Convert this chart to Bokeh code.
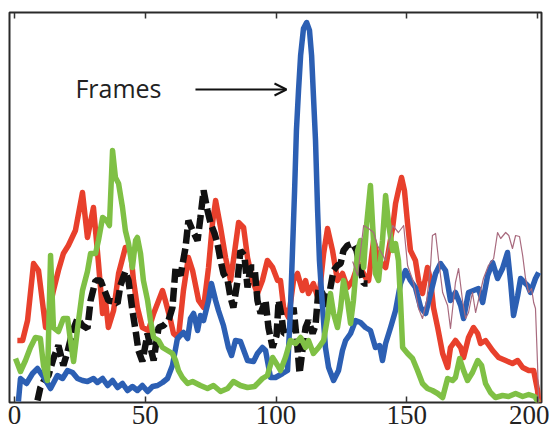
from bokeh.plotting import figure
from bokeh.models import Range1d, LinearAxis, FixedTicker, Label, Arrow, OpenHead
from bokeh.embed import file_html
from bokeh.resources import INLINE

# ---------------- data (frame index, response) ----------------
red_x = [1.1, 3.1, 5.0, 7.3, 9.2, 11.9, 14.9, 16.8, 18.7, 20.6, 23.3, 26.0, 27.9, 30.2, 32.1,
         33.7, 34.8, 35.9, 37.9, 39.8, 42.4, 44.4, 45.5, 47.0, 48.9, 51.2, 53.2, 56.6, 57.7,
         59.7, 60.8, 62.7, 64.6, 66.5, 68.1, 70.4, 72.3, 74.2, 75.7, 76.9, 78.8, 80.7, 82.6,
         83.7, 85.7, 87.6, 89.1, 91.0, 92.9, 94.8, 96.7, 98.7, 100.6, 101.7, 102.9, 104.8,
         106.7, 108.2, 110.1, 111.3, 112.4, 114.3, 116.3, 118.2, 119.7, 121.6, 123.5, 125.4,
         127.3, 129.3, 131.5, 134.2, 135.4, 137.3, 139.2, 141.9, 144.6, 145.7, 146.8, 148.0,
         149.1, 150.3, 151.4, 153.3, 154.5, 156.0, 157.9, 159.1, 160.2, 161.8, 163.7, 165.6,
         166.7, 168.6, 170.6, 171.7, 173.6, 175.5, 177.1, 178.2, 180.1, 182.8, 185.1, 187.8,
         190.4, 192.4, 194.3, 196.6, 198.5, 200.0, 200.4]
red_y = [62, 62, 82, 139, 132, 75, 112, 132, 149, 157, 172, 210, 165, 195, 140,
         89, 102, 75, 92, 129, 155, 152, 122, 95, 75, 72, 89, 112, 102,
         82, 69, 65, 112, 145, 132, 102, 95, 135, 179, 202, 175, 145, 122,
         142, 180, 175, 145, 122, 109, 122, 142, 135, 122, 122, 95, 85,
         122, 129, 112, 122, 109, 119, 102, 149, 174, 152, 122, 129,
         115, 122, 139, 125, 122, 162, 142, 135, 175, 199, 212, 225,
         212, 179, 152, 142, 122, 109, 135, 122, 95, 75, 49, 35,
         55, 62, 55, 45, 65, 75, 69, 59, 62, 52, 45, 42,
         39, 42, 35, 32, 32, 12, 0]

blue_x = [1.5, 2.3, 4.6, 6.9, 8.8, 11.5, 13.8, 16.4, 18.4, 20.3, 22.2, 24.1, 26.0, 27.9, 30.2,
          31.7, 33.7, 35.6, 37.5, 39.4, 41.3, 43.2, 45.1, 47.0, 48.9, 50.9, 52.8, 54.7, 56.6,
          58.5, 60.4, 62.3, 64.6, 66.2, 67.3, 68.5, 70.0, 71.1, 72.3, 74.2, 75.3, 76.9, 78.0,
          79.9, 81.8, 83.0, 84.5, 86.4, 89.1, 91.4, 92.9, 94.8, 96.0, 97.9, 99.8, 102.5, 104.4,
          105.5, 106.3, 107.1, 107.8, 108.6, 109.4, 110.5, 111.7, 112.8, 113.6, 114.3, 115.1,
          115.9, 116.6, 117.8, 118.9, 120.1, 122.0, 123.9, 125.4, 126.6, 128.5, 130.4, 132.3,
          134.2, 136.1, 138.0, 139.6, 140.7, 141.9, 143.8, 145.7, 147.6, 149.5, 151.4, 153.3,
          155.3, 157.2, 159.1, 161.0, 162.9, 164.8, 166.7, 168.6, 170.6, 171.7, 173.6, 175.5,
          177.4, 179.0, 180.9, 182.8, 184.7, 186.6, 188.5, 189.7, 190.8, 192.4, 193.5, 195.0,
          196.2, 197.3, 199.2, 200.4]
blue_y = [1, 24, 19, 29, 34, 24, 14, 27, 24, 32, 30, 24, 22, 21, 24,
          20, 24, 17, 22, 15, 19, 12, 16, 12, 17, 11, 16, 17, 20,
          24, 37, 64, 70, 64, 84, 89, 72, 87, 82, 102, 119, 102, 92,
          77, 55, 47, 62, 61, 42, 41, 49, 55, 52, 25, 25, 29, 32,
          92, 152, 212, 272, 312, 347, 374, 380, 372, 347, 307, 262,
          192, 142, 95, 55, 35, 22, 32, 52, 62, 69, 82, 80,
          75, 72, 55, 57, 42, 59, 75, 92, 119, 132, 122, 115,
          95, 89, 109, 129, 139, 132, 102, 110, 97, 84, 110, 112,
          114, 100, 127, 140, 124, 134, 150, 120, 87, 107, 124, 120,
          117, 110, 124, 130]

green_x = [0.4, 2.3, 4.2, 6.1, 8.0, 9.9, 11.1, 12.6, 13.8, 14.9, 16.8, 18.7, 20.3, 21.4, 22.6,
           24.5, 26.0, 27.9, 29.1, 31.0, 32.1, 33.7, 35.2, 36.3, 37.5, 38.6, 39.8, 41.3, 42.4,
           43.6, 45.1, 46.3, 47.0, 48.2, 49.3, 50.9, 52.0, 53.2, 55.1, 56.6, 58.5, 60.4, 61.6,
           62.7, 64.2, 66.2, 68.1, 71.1, 73.8, 76.1, 78.8, 81.5, 83.7, 86.4, 89.1, 91.8, 94.8,
           96.7, 98.7, 100.6, 101.7, 103.6, 105.5, 107.5, 109.4, 111.3, 112.4, 114.3, 116.3,
           118.2, 119.7, 120.8, 122.0, 123.5, 124.7, 125.8, 127.3, 128.5, 129.6, 131.2, 132.3,
           133.5, 134.6, 136.1, 136.9, 138.0, 139.2, 140.7, 141.9, 143.0, 144.6, 145.7, 146.8,
           147.6, 148.4, 150.3, 152.2, 154.1, 156.0, 157.9, 159.8, 161.8, 163.7, 165.6, 167.5,
           168.6, 170.2, 171.7, 173.2, 175.1, 177.1, 178.6, 180.1, 182.0, 183.9, 186.6, 188.9,
           191.6, 194.3, 196.6, 198.9, 200.4]
green_y = [44, 31, 42, 55, 65, 64, 37, 22, 147, 75, 71, 84, 84, 62, 41,
           82, 112, 131, 149, 149, 162, 185, 182, 177, 252, 225, 219, 195, 172,
           159, 135, 162, 165, 149, 122, 102, 82, 65, 62, 55, 52, 49, 42,
           32, 25, 19, 21, 17, 14, 17, 11, 14, 21, 17, 15, 16, 24,
           27, 45, 37, 32, 45, 62, 59, 65, 55, 62, 49, 55,
           62, 85, 109, 89, 75, 95, 122, 102, 79, 102, 152, 162,
           135, 177, 217, 179, 129, 122, 162, 207, 179, 152, 159, 142,
           102, 55, 49, 44, 32, 19, 14, 12, 9, 5, 24, 22,
           25, 44, 32, 22, 30, 42, 37, 19, 10, 5, 7, 6,
           9, 6, 8, 6, 0]

black_x = [8.8, 9.9, 11.1, 13.0, 14.9, 16.8, 18.7, 20.3, 22.2, 24.1, 26.0, 27.9, 29.1, 31.0,
           32.9, 34.4, 35.9, 37.9, 39.4, 40.5, 42.4, 43.6, 45.1, 46.3, 47.4, 48.9, 50.9, 52.0,
           53.2, 55.1, 57.0, 58.9, 60.4, 61.6, 63.5, 65.4, 66.5, 68.1, 70.0, 71.1, 72.3, 73.8,
           75.0, 76.5, 77.6, 78.8, 79.9, 81.5, 82.6, 83.7, 85.3, 86.4, 87.9, 89.1, 90.2, 91.8,
           92.9, 94.1, 96.0, 97.1, 98.7, 100.2, 101.0, 102.1, 102.9, 104.8, 105.5, 106.7, 108.2,
           109.0, 110.1, 111.3, 112.4, 114.0, 115.1, 116.3, 117.8, 118.9, 120.1, 122.0, 123.5,
           124.7, 125.8, 127.3, 129.3, 130.8, 132.3, 133.5, 135.0]
black_y = [2, 15, 21, 27, 44, 57, 37, 51, 71, 84, 77, 74, 102, 122,
           122, 112, 102, 101, 99, 117, 131, 122, 92, 72, 52, 41, 69, 55,
           42, 75, 77, 82, 95, 135, 127, 155, 182, 172, 162, 185, 212, 192,
           179, 169, 159, 142, 129, 122, 105, 95, 122, 152, 147, 115, 135, 135,
           102, 89, 102, 75, 55, 67, 102, 87, 69, 69, 75, 95, 55,
           29, 52, 75, 82, 69, 77, 115, 109, 95, 105, 132, 137,
           139, 152, 157, 159, 152, 132, 119, 119]

thin_x = [129.3, 131.2, 133.5, 135.4, 137.3, 138.8, 141.9, 144.6, 146.8, 148.8, 150.3, 152.6,
          154.5, 156.0, 157.6, 159.1, 159.8, 161.0, 162.1, 163.7, 165.6, 166.7, 168.6, 169.8,
          171.3, 172.5, 173.6, 175.1, 176.3, 177.8, 179.3, 181.2, 183.2, 184.7, 185.9, 187.8,
          189.0, 190.4, 191.6, 193.1, 194.3, 195.4, 196.6, 197.7, 198.5, 199.2, 200.0, 200.4]
thin_y = [141, 127, 177, 174, 170, 157, 142, 177, 170, 177, 137, 120,
          94, 84, 102, 137, 167, 169, 144, 110, 97, 74, 120, 134,
          102, 84, 90, 110, 90, 107, 124, 137, 144, 170, 164, 170,
          167, 154, 167, 166, 147, 124, 110, 114, 100, 94, 37, 0]

tick_vals = [0, 50, 100, 150, 200]
tick_labels = ["0", "50", "100", "150", "200"]
annotation_text = "Frames"

# ---------------- figure ----------------
p = figure(width=549, height=436, output_backend="svg", toolbar_location=None,
           x_range=Range1d(-1.9, 201.5), y_range=Range1d(0, 390),
           x_axis_location=None, y_axis_location=None,
           min_border_left=9, min_border_right=8, min_border_top=12, min_border_bottom=34)
p.grid.visible = False
p.background_fill_color = "white"
p.border_fill_color = "white"
p.outline_line_color = "#2a2a2a"
p.outline_line_width = 2

bottom = LinearAxis(ticker=FixedTicker(ticks=tick_vals),
                    major_label_overrides={v: t for v, t in zip(tick_vals, tick_labels)},
                    major_label_standoff=3,
                    major_label_text_font="Liberation Sans Narrow",
                    major_label_text_font_size="27px",
                    major_label_text_color="#222222",
                    major_tick_in=6, major_tick_out=0,
                    major_tick_line_color="#333333", major_tick_line_width=1.5,
                    minor_tick_line_color=None, axis_line_color=None)
p.add_layout(bottom, "below")

top = LinearAxis(ticker=FixedTicker(ticks=tick_vals),
                 major_label_overrides={v: "" for v in tick_vals},
                 major_label_standoff=0,
                 major_tick_in=6, major_tick_out=0,
                 major_tick_line_color="#333333", major_tick_line_width=1.5,
                 minor_tick_line_color=None, axis_line_color=None)
p.add_layout(top, "above")

p.line(red_x, red_y, line_color="#e8402c", line_width=5.5, line_join="round")
p.line(black_x, black_y, line_color="#111111", line_width=6.5, line_dash="14 5")
p.line(blue_x, blue_y, line_color="#2c5fb3", line_width=5.5, line_join="round")
p.line(green_x, green_y, line_color="#7fc045", line_width=5.5, line_join="round")
p.line(thin_x, thin_y, line_color="#a86a7e", line_width=1.2, line_join="round")

p.add_layout(Label(x=23.3, y=315, text=annotation_text, text_font="Open Sans",
                   text_font_size="25px", text_baseline="middle", text_color="#222222"))
p.add_layout(Arrow(x_start=69.2, y_start=313, x_end=104.0, y_end=313,
                   line_width=2, line_color="#111111",
                   end=OpenHead(size=12, line_width=2, line_color="#111111")))

open("out.html", "w").write(file_html(p, INLINE))
